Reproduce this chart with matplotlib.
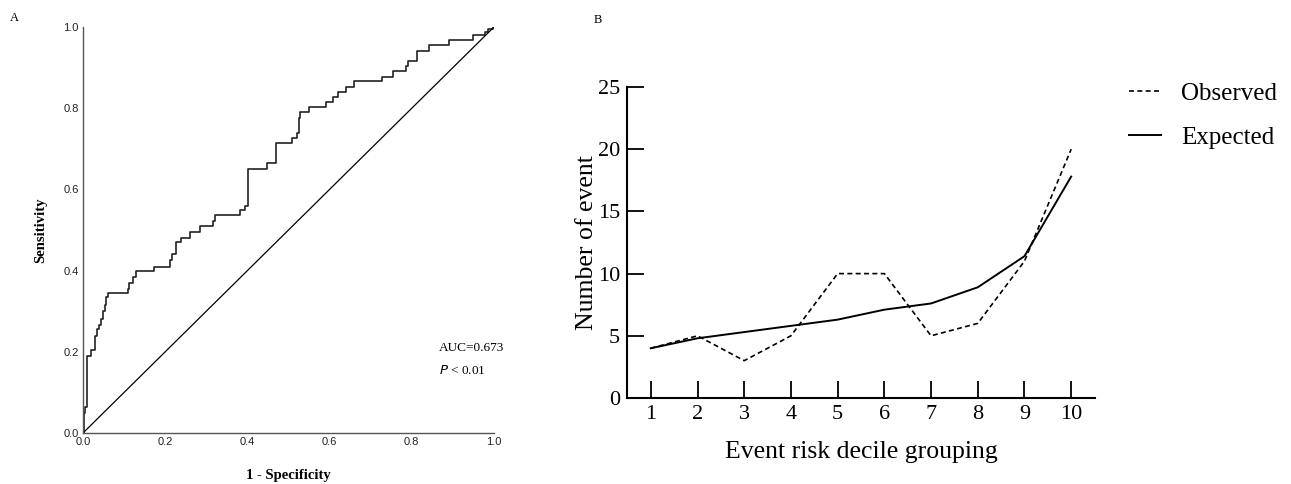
import matplotlib
matplotlib.use('Agg')
import matplotlib.pyplot as plt
from matplotlib.lines import Line2D

SERIF = 'Liberation Serif'
SANS = 'Liberation Sans'

# panel A: ROC curve step vertices (fpr, tpr), steps-post
roc_fpr = [0.0, 0.002, 0.006, 0.010, 0.020, 0.030, 0.034, 0.040, 0.045, 0.048,
           0.053, 0.057, 0.062, 0.109, 0.113, 0.121, 0.129, 0.173, 0.211, 0.216,
           0.227, 0.238, 0.260, 0.284, 0.316, 0.322, 0.381, 0.393, 0.401, 0.447,
           0.469, 0.508, 0.520, 0.526, 0.528, 0.551, 0.591, 0.609, 0.621, 0.640,
           0.660, 0.728, 0.755, 0.786, 0.790, 0.812, 0.843, 0.891, 0.950, 0.978,
           0.986, 0.997, 1.0]
roc_tpr = [0.0, 0.05, 0.065, 0.19, 0.205, 0.24, 0.255, 0.265, 0.28, 0.30,
           0.315, 0.335, 0.345, 0.355, 0.37, 0.385, 0.40, 0.41, 0.425, 0.44,
           0.47, 0.48, 0.495, 0.51, 0.523, 0.537, 0.55, 0.56, 0.651, 0.664,
           0.714, 0.727, 0.74, 0.777, 0.79, 0.803, 0.815, 0.828, 0.84, 0.853,
           0.867, 0.877, 0.891, 0.903, 0.916, 0.942, 0.955, 0.967, 0.980, 0.988,
           0.995, 1.0, 1.0]
roc_ticks = [0.0, 0.2, 0.4, 0.6, 0.8, 1.0]
auc_text = 'AUC=0.673'

# panel B: calibration by decile
deciles = [1, 2, 3, 4, 5, 6, 7, 8, 9, 10]
observed = [4, 5, 3, 5, 10, 10, 5, 6, 11, 20]
expected = [4.0, 4.8, 5.3, 5.8, 6.3, 7.1, 7.6, 8.9, 11.4, 17.8]
count_ticks = [0, 5, 10, 15, 20, 25]

fig = plt.figure(figsize=(12.91, 4.84), dpi=100)

# ---- panel A
ax1 = fig.add_axes([83/1291, 51/484, 411/1291, 406/484])
ax1.plot(roc_fpr, roc_tpr, drawstyle='steps-post', color='#222222', lw=1.2)
ax1.plot([0, 1], [0, 1], color='black', lw=0.9)
ax1.set_xlim(0, 1)
ax1.set_ylim(0, 1)
ax1.set_xticks(roc_ticks)
ax1.set_yticks(roc_ticks)
ax1.set_xticklabels(['%.1f' % t for t in roc_ticks], family=SANS, fontsize=8, color='#222222')
ax1.set_yticklabels(['%.1f' % t for t in roc_ticks], family=SANS, fontsize=8, color='#222222')
ax1.tick_params(length=0, pad=3)
for s in ['top', 'right']:
    ax1.spines[s].set_visible(False)
for s in ['left', 'bottom']:
    ax1.spines[s].set_color('#555555')
    ax1.spines[s].set_linewidth(1.0)
ax1.set_xlabel('1 - Specificity', family=SERIF, fontsize=10.5, fontweight='bold', labelpad=16)
ax1.set_ylabel('Sensitivity', family=SERIF, fontsize=10.5, fontweight='bold', labelpad=12)
ax1.text(0.866, 0.21, auc_text, family=SERIF, fontsize=9.5, va='center')
ax1.text(0.866, 0.155, '$P$ < 0.01', family=SERIF, fontsize=9.5, va='center')
fig.text(10/1291, 1 - 18/484, 'A', family=SERIF, fontsize=9, va='center')

# ---- panel B
ax2 = fig.add_axes([627/1291, 86/484, 468/1291, 311/484])
ax2.plot(deciles, observed, color='black', lw=1.2, ls=(0, (3, 2)), label='Observed')
ax2.plot(deciles, expected, color='black', lw=1.4, label='Expected')
ax2.set_xlim(0.49, 10.51)
ax2.set_ylim(0, 25)
ax2.set_xticks(deciles)
ax2.set_yticks(count_ticks)
ax2.set_xticklabels([str(d) for d in deciles], family=SERIF, fontsize=16)
ax2.set_yticklabels([str(c) for c in count_ticks], family=SERIF, fontsize=16)
ax2.tick_params(direction='in', length=12, width=1.3, pad=5)
for s in ['top', 'right']:
    ax2.spines[s].set_visible(False)
for s in ['left', 'bottom']:
    ax2.spines[s].set_linewidth(1.5)
ax2.set_xlabel('Event risk decile grouping', family=SERIF, fontsize=18.5, labelpad=12)
ax2.set_ylabel('Number of event', family=SERIF, fontsize=18.5, labelpad=0)
fig.text(594/1291, 1 - 20/484, 'B', family=SERIF, fontsize=9, va='center')

handles = [Line2D([], [], color='black', lw=1.2, ls=(0, (3, 2))),
           Line2D([], [], color='black', lw=1.4)]
fig.legend(handles, ['Observed', 'Expected'], loc='upper left',
           bbox_to_anchor=(1106/1291, 1 - 60/484), frameon=False,
           prop={'family': SERIF, 'size': 18}, handlelength=1.3,
           handletextpad=0.8, labelspacing=0.85)

fig.savefig('out.png', dpi=100)
